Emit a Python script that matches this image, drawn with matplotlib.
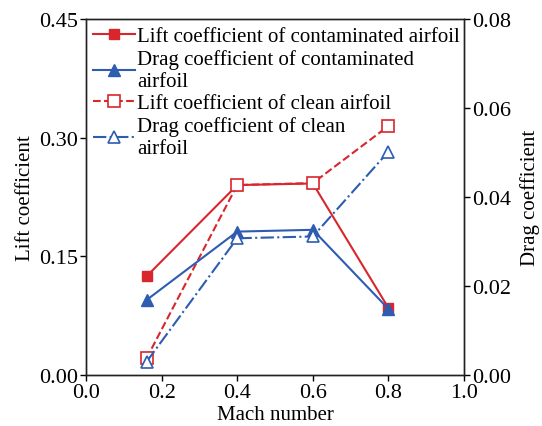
import matplotlib
matplotlib.use("Agg")
import matplotlib.pyplot as plt

plt.rcParams['font.family'] = ['Liberation Serif', 'DejaVu Serif']
plt.rcParams['font.size'] = 15

mach = [0.16, 0.4, 0.6, 0.8]
lift_contaminated = [0.1245, 0.240, 0.242, 0.0845]
drag_contaminated = [0.0168, 0.0322, 0.0326, 0.0148]
lift_clean = [0.0207, 0.240, 0.2425, 0.3147]
drag_clean = [0.0029, 0.0307, 0.0311, 0.0502]

red = '#d9262c'
blue = '#2d5cb0'

fig = plt.figure(figsize=(5.42, 4.27), dpi=100)
ax = fig.add_axes([0.1587, 0.120, 0.6975, 0.833])
ax2 = ax.twinx()

l1, = ax.plot(mach, lift_contaminated, '-', color=red, lw=1.5, marker='s', ms=7,
              label='Lift coefficient of contaminated airfoil')
l3, = ax.plot(mach, lift_clean, '--', color=red, lw=1.5, marker='s', ms=8,
              mfc='white', mew=1.2, label='Lift coefficient of clean airfoil')
l2, = ax2.plot(mach, drag_contaminated, '-', color=blue, lw=1.5, marker='^', ms=8,
               label='Drag coefficient of contaminated\nairfoil')
l4, = ax2.plot(mach, drag_clean, '-.', color=blue, lw=1.5, marker='^', ms=9,
               mfc='white', mew=1.2, label='Drag coefficient of clean\nairfoil')

ax.set_xlim(0, 1.0)
ax.set_ylim(0, 0.45)
ax2.set_ylim(0, 0.08)
ax.set_xticks([0.0, 0.2, 0.4, 0.6, 0.8, 1.0])
ax.set_xticklabels(['0.0', '0.2', '0.4', '0.6', '0.8', '1.0'])
ax.set_yticks([0.0, 0.15, 0.30, 0.45])
ax.set_yticklabels(['0.00', '0.15', '0.30', '0.45'])
ax2.set_yticks([0.0, 0.02, 0.04, 0.06, 0.08])
ax2.set_yticklabels(['0.00', '0.02', '0.04', '0.06', '0.08'])

for a in (ax, ax2):
    a.tick_params(direction='out', length=4, width=1, labelsize=16, pad=2)
    for s in a.spines.values():
        s.set_linewidth(1.0)
        s.set_color('#222222')

ax.set_xlabel('Mach number', fontsize=15, labelpad=2)
ax.set_ylabel('Lift coefficient', fontsize=15, labelpad=3)
ax2.set_ylabel('Drag coefficient', fontsize=15, labelpad=6)

leg = ax.legend(handles=[l1, l2, l3, l4], loc='upper left', frameon=False,
                fontsize=15, handlelength=2.0, handletextpad=0.1,
                labelspacing=0.14, borderaxespad=0.15, borderpad=0.2)
for t in leg.get_texts():
    t.set_linespacing(1.22)
leg.set_zorder(5)

fig.savefig('out.png', dpi=100)
